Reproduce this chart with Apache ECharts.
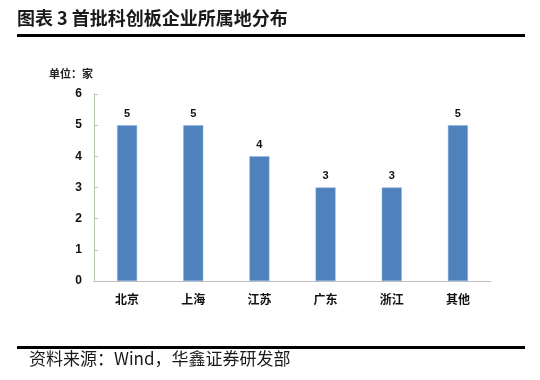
<!DOCTYPE html>
<html><head><meta charset="utf-8">
<script src="https://cdn.jsdelivr.net/npm/echarts@6/dist/echarts.min.js"></script>
<style>html,body{margin:0;padding:0;background:#fff;}#c{width:540px;height:380px;}</style>
</head><body><div id="c"></div>
<script>
var categories = ['北京','上海','江苏','广东','浙江','其他'];
var values = [5,5,4,3,3,5];
var yTicks = [0,1,2,3,4,5,6];
var chart = echarts.init(document.getElementById('c'), null, {renderer:'canvas'});
var cjk = '"Noto Sans CJK SC", sans-serif';
chart.setOption({
  animation:false,
  backgroundColor:'#fff',
  graphic:[
    {type:'text', left:17, top:9, style:{text:'图表 3 首批科创板企业所属地分布', font:'bold 18px ' + cjk, fill:'#1a1a1a'}},
    {type:'rect', shape:{x:17, y:34, width:508, height:3}, style:{fill:'#000'}},
    {type:'rect', shape:{x:17, y:346, width:508, height:3}, style:{fill:'#000'}},
    {type:'text', left:29, top:350, style:{text:'资料来源：Wind，华鑫证券研发部', font:'17px ' + cjk, fill:'#1a1a1a'}},
    {type:'text', left:49, top:68, style:{text:'单位：家', font:'bold 11px ' + cjk, fill:'#222'}}
  ],
  grid:{left:94, right:49, top:94, bottom:99},
  xAxis:{type:'category', data:categories,
    axisLine:{lineStyle:{color:'#bfbfbf'}}, axisTick:{show:false},
    axisLabel:{color:'#111', fontWeight:'bold', fontSize:12, fontFamily:cjk, margin:12}},
  yAxis:{type:'value', min:yTicks[0], max:yTicks[yTicks.length-1], interval:1,
    axisLine:{show:true, lineStyle:{color:'#b5c9a8'}}, axisTick:{show:true, length:4, inside:true, lineStyle:{color:'#b5c9a8'}},
    splitLine:{show:false},
    axisLabel:{color:'#111', fontWeight:'bold', fontSize:12, fontFamily:'"Liberation Sans", sans-serif', margin:12}},
  series:[{type:'bar', data:values, barWidth:20,
    itemStyle:{color:'#4F81BD', borderColor:'#8db3e2', borderWidth:0.5},
    label:{show:true, position:'top', distance:6, color:'#111', fontWeight:'bold', fontSize:11, fontFamily:'"Liberation Sans", sans-serif'}}]
});
</script></body></html>
